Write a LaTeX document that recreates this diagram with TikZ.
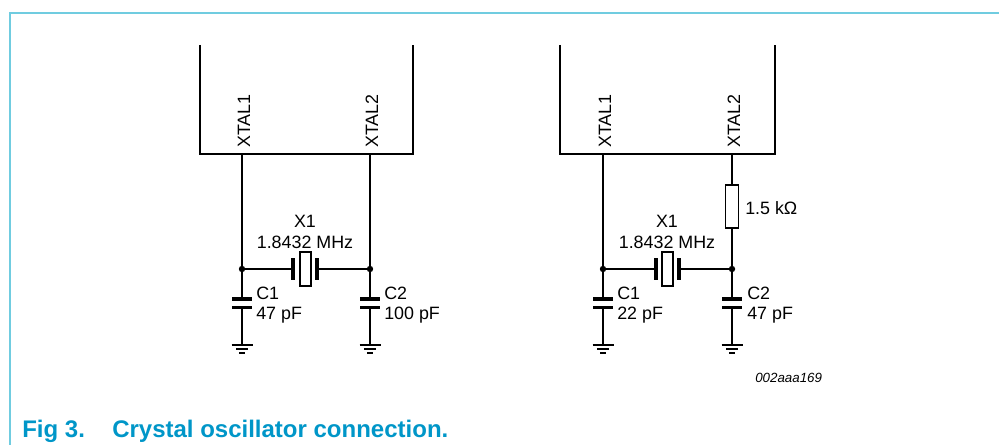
\documentclass[tikz,border=0pt]{standalone}
\usepackage{fontspec}
\setmainfont{Liberation Sans}
\definecolor{frameblue}{RGB}{112,204,224}
\definecolor{capblue}{RGB}{0,150,200}
\tikzset{
  wire/.style={line width=0.95pt},
  block/.style={line width=2.2pt},
  plate/.style={line width=2.5pt},
  lbl/.style={inner sep=0pt, font=\fontsize{13.4}{15}\selectfont},
  dot/.style={circle, fill, inner sep=0pt, minimum size=4.8pt},
}
\begin{document}
\begin{tikzpicture}[x=0.75pt,y=-0.75pt]
\useasboundingbox (0,0) rectangle (999,445);
% frame
\draw[frameblue, line width=1.6pt] (10,445) -- (10,13) -- (999,13);

% ================= left circuit =================
\draw[block] (200,45) -- (200,154) -- (413,154) -- (413,45);
\node[lbl, rotate=90, anchor=base west] (lx1) at (250,148) {XTAL1};
\node[lbl, rotate=90, anchor=base west] (lx2) at (378,148) {XTAL2};
\coordinate (lp1) at (242,154);
\coordinate (lp2) at (370,154);
\node[dot] (lj1) at (242,269) {};
\node[dot] (lj2) at (370,269) {};
% crystal
\coordinate (lxa) at (293,269);
\coordinate (lxb) at (317,269);
\draw[wire] (lp1) -- (lj1) -- (lxa);
\draw[wire] (lp2) -- (lj2) -- (lxb);
\draw[plate] (293,258.5) -- (293,280.5);
\draw[plate] (317,258.5) -- (317,280.5);
\draw[wire] (300,252) rectangle (311,286);
\node[lbl, anchor=base] (lx1l) at (305,228) {X1};
\node[lbl, anchor=base] (lx1f) at (305,248) {1.8432 MHz};
% C1
\draw[wire] (lj1) -- (242,299);
\draw[plate] (232,299) -- (252,299);
\draw[plate] (232,307.5) -- (252,307.5);
\draw[wire] (242,307.5) -- (242,345);
\draw[wire] (231.5,345) -- (252.5,345);
\draw[wire] (236,349) -- (248,349);
\draw[wire] (239,353) -- (245,353);
\node[lbl, anchor=base west] (lc1) at (256,300) {C1};
\node[lbl, anchor=base west] (lc1v) at (256,319) {47 pF};
% C2
\draw[wire] (lj2) -- (370,299);
\draw[plate] (360,299) -- (380,299);
\draw[plate] (360,307.5) -- (380,307.5);
\draw[wire] (370,307.5) -- (370,345);
\draw[wire] (359.5,345) -- (380.5,345);
\draw[wire] (364,349) -- (376,349);
\draw[wire] (367,353) -- (373,353);
\node[lbl, anchor=base west] (lc2) at (384,300) {C2};
\node[lbl, anchor=base west] (lc2v) at (384,319) {100 pF};

% ================= right circuit =================
\draw[block] (560,45) -- (560,154) -- (775,154) -- (775,45);
\node[lbl, rotate=90, anchor=base west] (rx1) at (611,148) {XTAL1};
\node[lbl, rotate=90, anchor=base west] (rx2) at (740,148) {XTAL2};
\coordinate (rp1) at (603,154);
\coordinate (rp2) at (732,154);
\node[dot] (rj1) at (603,269) {};
\node[dot] (rj2) at (732,269) {};
% resistor
\draw[wire] (rp2) -- (732,185);
\draw[wire] (725.5,185) rectangle (738.5,228);
\draw[wire] (732,228) -- (rj2);
\node[lbl, anchor=base west] (rr) at (745,215) {1.5 kΩ};
% crystal
\coordinate (rxa) at (656,269);
\coordinate (rxb) at (679,269);
\draw[wire] (rp1) -- (rj1) -- (rxa);
\draw[wire] (rj2) -- (rxb);
\draw[plate] (656,258.5) -- (656,280.5);
\draw[plate] (679,258.5) -- (679,280.5);
\draw[wire] (662,252) rectangle (673,286);
\node[lbl, anchor=base] (rx1l) at (667,228) {X1};
\node[lbl, anchor=base] (rx1f) at (667,248) {1.8432 MHz};
% C1
\draw[wire] (rj1) -- (603,299);
\draw[plate] (593,299) -- (613,299);
\draw[plate] (593,307.5) -- (613,307.5);
\draw[wire] (603,307.5) -- (603,345);
\draw[wire] (592.5,345) -- (613.5,345);
\draw[wire] (597,349) -- (609,349);
\draw[wire] (600,353) -- (606,353);
\node[lbl, anchor=base west] (rc1) at (617,300) {C1};
\node[lbl, anchor=base west] (rc1v) at (617,320) {22 pF};
% C2
\draw[wire] (rj2) -- (732,299);
\draw[plate] (722,299) -- (742,299);
\draw[plate] (722,307.5) -- (742,307.5);
\draw[wire] (732,307.5) -- (732,345);
\draw[wire] (721.5,345) -- (742.5,345);
\draw[wire] (726,349) -- (738,349);
\draw[wire] (729,353) -- (735,353);
\node[lbl, anchor=base west] (rc2) at (747,300) {C2};
\node[lbl, anchor=base west] (rc2v) at (747,320) {47 pF};

\node[inner sep=0pt, anchor=base west, font=\fontsize{10}{12}\selectfont\itshape] (code) at (755,382) {002aaa169};

% caption
\node[inner sep=0pt, anchor=base west, text=capblue, font=\fontsize{18}{20}\selectfont\bfseries] (fig) at (22,437) {Fig 3.};
\node[inner sep=0pt, anchor=base west, text=capblue, font=\fontsize{18}{20}\selectfont\bfseries] (cap) at (112,437) {Crystal oscillator connection.};
\end{tikzpicture}
\end{document}
